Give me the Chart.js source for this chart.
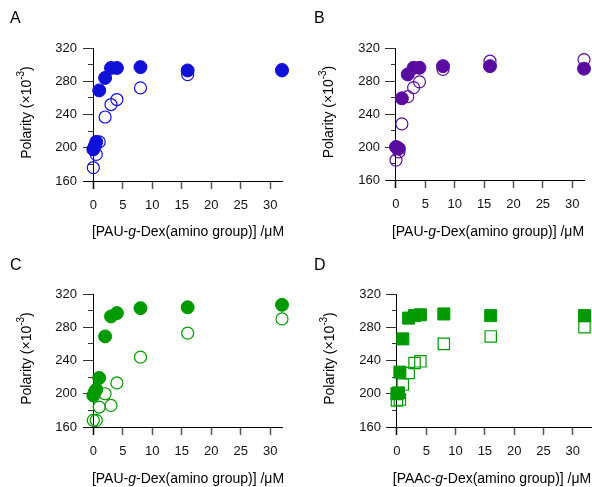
<!DOCTYPE html>
<html>
<head>
<meta charset="utf-8">
<script src="https://cdn.jsdelivr.net/npm/chart.js@4.4.1/dist/chart.umd.min.js"></script>
<style>
  body { margin: 0; background: #fff; width: 592px; height: 487px; position: relative; overflow: hidden; }
  .panel { position: absolute; }
</style>
</head>
<body>
<div class="panel" style="left:0;top:0;width:296px;height:243px"><canvas id="chartA"></canvas></div>
<div class="panel" style="left:296px;top:0;width:296px;height:243px"><canvas id="chartB"></canvas></div>
<div class="panel" style="left:0;top:243px;width:296px;height:244px"><canvas id="chartC"></canvas></div>
<div class="panel" style="left:296px;top:243px;width:305px;height:244px"><canvas id="chartD"></canvas></div>
<script>
// tick labels
const xTicks = [0, 5, 10, 15, 20, 25, 30];
const yTicks = [160, 200, 240, 280, 320];
const yMinorTicks = [180, 220, 260, 300];

// panel A (blue circles)
const xFilledA = [0, 0.25, 0.5, 1, 2, 3, 4, 8, 16, 32];
const yFilledA = [198, 202, 207, 269, 284, 296, 296, 297, 293, 293];
const xOpenA = [0, 0.5, 1, 2, 3, 4, 8, 16, 32];
const yOpenA = [176, 192, 207, 237, 252, 258, 272, 288, 294];

// panel B (purple circles)
const xFilledB = [0, 0.25, 0.5, 1, 2, 3, 4, 8, 16, 32];
const yFilledB = [200, 199, 198, 259, 288, 296, 296, 298, 298, 295];
const xOpenB = [0, 0.5, 1, 2, 3, 4, 8, 16, 32];
const yOpenB = [184, 194, 228, 261, 272, 279, 294, 304, 306];

// panel C (green circles)
const xFilledC = [0, 0.25, 0.5, 1, 2, 3, 4, 8, 16, 32];
const yFilledC = [198, 202, 205, 219, 269, 293, 297, 303, 304, 307];
const xOpenC = [0, 0.5, 1, 2, 3, 4, 8, 16, 32];
const yOpenC = [168, 168, 184, 200, 186, 213, 244, 273, 290];

// panel D (green squares)
const xFilledD = [0, 0.25, 0.5, 1, 2, 3, 4, 8, 16, 32];
const yFilledD = [200, 201, 226, 266, 291, 294, 295, 296, 294, 294];
const xOpenD = [0, 0.5, 1, 2, 3, 4, 8, 16, 32];
const yOpenD = [192, 193, 211, 225, 237, 239, 260, 269, 280];

const FONT = '"Liberation Sans", Arial, sans-serif';

function toPoints(xs, ys) {
  return xs.map((x, i) => ({ x: x, y: ys[i] }));
}

// letter, y title with superscript, x title with italic g
const titlesPlugin = {
  id: 'titles',
  afterDraw(chart) {
    const o = chart.options.plugins.titles;
    const ctx = chart.ctx;
    const area = chart.chartArea;
    ctx.save();
    ctx.fillStyle = '#000';

    ctx.font = '16px ' + FONT;
    ctx.textAlign = 'left';
    ctx.textBaseline = 'middle';
    ctx.fillText(o.letter, o.letterX, o.letterY);

    // y title
    const parts = [['Polarity (\u00d710', 14, 0], ['-3', 10, -6], [')', 14, 0]];
    let total = 0;
    parts.forEach(p => { ctx.font = p[1] + 'px ' + FONT; total += ctx.measureText(p[0]).width; });
    ctx.save();
    ctx.translate(o.yTitleX, (area.top + area.bottom) / 2 - 2);
    ctx.rotate(-Math.PI / 2);
    ctx.textAlign = 'left';
    ctx.textBaseline = 'middle';
    let pos = -total / 2;
    parts.forEach(p => {
      ctx.font = p[1] + 'px ' + FONT;
      ctx.fillText(p[0], pos, p[2]);
      pos += ctx.measureText(p[0]).width;
    });
    ctx.restore();

    // x title
    const xParts = [['[' + o.polymer + '-', '14px ' + FONT], ['g', 'italic 14px ' + FONT], ['-Dex(amino group)] /\u03bcM', '14px ' + FONT]];
    let w = 0;
    xParts.forEach(p => { ctx.font = p[1]; w += ctx.measureText(p[0]).width; });
    let x = o.xTitleX - w / 2;
    ctx.textAlign = 'left';
    ctx.textBaseline = 'middle';
    xParts.forEach(p => {
      ctx.font = p[1];
      ctx.fillText(p[0], x, o.xTitleY);
      x += ctx.measureText(p[0]).width;
    });
    ctx.restore();
  }
};

function makeChart(id, cfg) {
  const color = cfg.color;
  const ctx = document.getElementById(id).getContext('2d');
  return new Chart(ctx, {
    type: 'scatter',
    data: {
      datasets: [
        {
          label: 'filled',
          data: toPoints(cfg.xFilled, cfg.yFilled),
          pointStyle: cfg.style,
          pointRadius: cfg.style === 'rect' ? 8.5 : 6.5,
          backgroundColor: color,
          borderColor: color,
          borderWidth: 1,
          clip: false,
        },
        {
          label: 'open',
          data: toPoints(cfg.xOpen, cfg.yOpen),
          pointStyle: cfg.style,
          pointRadius: cfg.style === 'rect' ? 8 : 6,
          backgroundColor: 'rgba(255,255,255,0)',
          borderColor: color,
          borderWidth: 1.2,
          clip: false,
        },
      ],
    },
    options: {
      responsive: true,
      maintainAspectRatio: false,
      animation: false,
      events: [],
      layout: { padding: { left: cfg.left - 40, right: cfg.right, top: cfg.top, bottom: 0 } },
      plugins: {
        legend: { display: false },
        tooltip: { enabled: false },
        titles: cfg.titles,
      },
      scales: {
        x: {
          type: 'linear',
          position: 'bottom',
          min: cfg.xMin,
          max: cfg.xMax,
          afterBuildTicks: s => { s.ticks = xTicks.map(v => ({ value: v })); },
          afterFit: s => { s.height = cfg.xHeight; },
          ticks: { padding: 9, color: '#111', font: { family: FONT, size: 13 } },
          grid: {
            drawOnChartArea: false,
            tickLength: 8,
            tickColor: c => (c.tick && c.tick.value === 0 ? '#000' : '#555'),
            tickWidth: 1.5,
          },
          border: { color: '#000', width: 1 },
        },
        // labels only, sits left of the plot area
        yLabels: {
          type: 'linear',
          axis: 'y',
          position: 'left',
          min: 160,
          max: 320,
          afterBuildTicks: s => { s.ticks = yTicks.map(v => ({ value: v })); },
          afterFit: s => { s.width = 40; },
          ticks: { padding: 6, color: '#111', font: { family: FONT, size: 13 } },
          grid: { display: false, drawTicks: false },
          border: { display: false },
        },
        // axis line and major ticks at x = 0
        y: {
          type: 'linear',
          position: { x: 0 },
          min: 160,
          max: 320,
          afterBuildTicks: s => { s.ticks = yTicks.map(v => ({ value: v })); },
          ticks: { display: false },
          grid: { drawOnChartArea: false, tickLength: 10, tickColor: '#333' },
          border: { color: '#000', width: 1 },
        },
        y2: {
          type: 'linear',
          axis: 'y',
          position: { x: 0 },
          min: 160,
          max: 320,
          afterBuildTicks: s => { s.ticks = yMinorTicks.map(v => ({ value: v })); },
          ticks: { display: false },
          grid: { drawOnChartArea: false, tickLength: 5, tickColor: '#333' },
          border: { display: false },
        },
      },
    },
    plugins: [titlesPlugin],
  });
}

makeChart('chartA', {
  color: '#1010d6', style: 'circle',
  xFilled: xFilledA, yFilled: yFilledA, xOpen: xOpenA, yOpen: yOpenA,
  left: 83, right: 14, top: 48, xHeight: 62, xMin: -1.75, xMax: 32,
  titles: { letter: 'A', letterX: 10, letterY: 19, yTitleX: 27, xTitleX: 188, xTitleY: 232, polymer: 'PAU' },
});
makeChart('chartB', {
  color: '#5a0ca0', style: 'circle',
  xFilled: xFilledB, yFilled: yFilledB, xOpen: xOpenB, yOpen: yOpenB,
  left: 90, right: 8, top: 48, xHeight: 63, xMin: -1.7, xMax: 32,
  titles: { letter: 'B', letterX: 18, letterY: 19, yTitleX: 33, xTitleX: 192, xTitleY: 232, polymer: 'PAU' },
});
makeChart('chartC', {
  color: '#009a00', style: 'circle',
  xFilled: xFilledC, yFilled: yFilledC, xOpen: xOpenC, yOpen: yOpenC,
  left: 83, right: 14, top: 51, xHeight: 60, xMin: -1.75, xMax: 32,
  titles: { letter: 'C', letterX: 10, letterY: 23, yTitleX: 27, xTitleX: 188, xTitleY: 236, polymer: 'PAU' },
});
makeChart('chartD', {
  color: '#009a00', style: 'rect',
  xFilled: xFilledD, yFilled: yFilledD, xOpen: xOpenD, yOpen: yOpenD,
  left: 91, right: 0, top: 51, xHeight: 60, xMin: -1.7, xMax: 33.2,
  titles: { letter: 'D', letterX: 18, letterY: 23, yTitleX: 34, xTitleX: 196, xTitleY: 236, polymer: 'PAAc' },
});
</script>
</body>
</html>
